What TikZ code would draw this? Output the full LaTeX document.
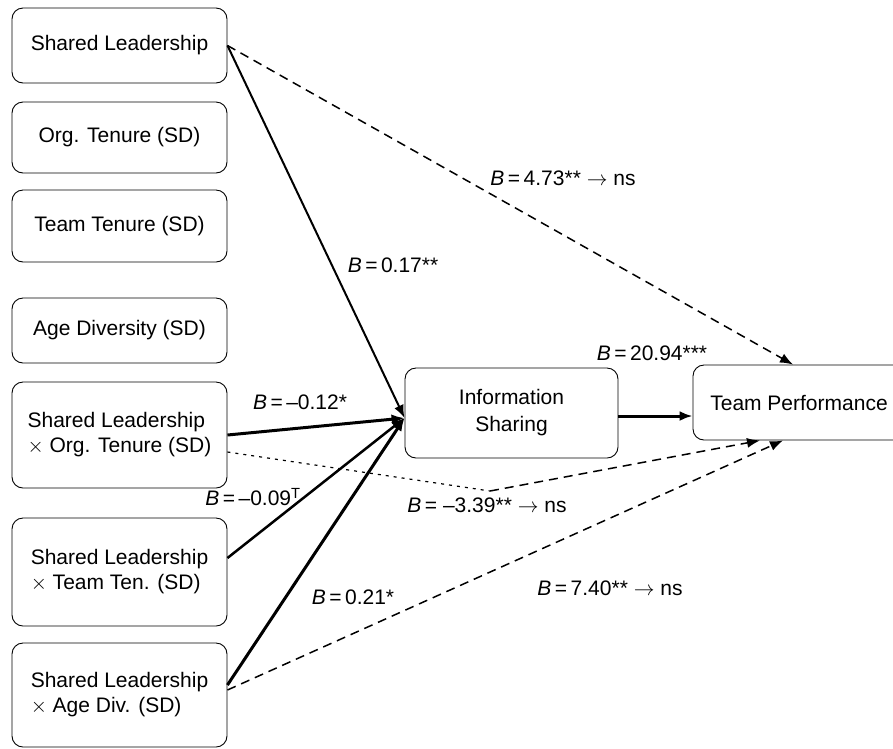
\documentclass[tikz,border=0pt]{standalone}
\usepackage{fontspec}
\setmainfont{Liberation Sans}
\usetikzlibrary{arrows.meta}
\begin{document}
\begin{tikzpicture}[x=1pt,y=-1pt,
  box/.style={draw, line width=0.9pt, rounded corners=11pt, align=center, font=\fontsize{21}{25}\selectfont, inner sep=0pt},
  lbox/.style={box, align=left},
  lab/.style={font=\fontsize{21}{25}\selectfont, inner sep=0pt},
  tip/.style={-{Latex[length=13pt,width=10pt]}},
  solidA/.style={tip, line width=2pt},
  solidB/.style={tip, line width=3pt},
  dashA/.style={tip, line width=1.5pt, dash pattern=on 9pt off 6pt},
  dotA/.style={line width=1.2pt, dash pattern=on 3pt off 5pt}]
\useasboundingbox (0,0) rectangle (893,748);
\node[box, minimum width=215pt, minimum height=75pt] (sl) at (119.5,45.5) {Shared Leadership};
\node[box, minimum width=215pt, minimum height=71pt] (ot) at (119.5,137.5) {Org. Tenure (SD)};
\node[box, minimum width=215pt, minimum height=72pt] (tt) at (119.5,226) {Team Tenure (SD)};
\node[box, minimum width=215pt, minimum height=65pt] (ad) at (119.5,330.5) {Age Diversity (SD)};
\node[lbox, minimum width=215pt, minimum height=106pt] (so) at (119.5,435) {Shared Leadership\\$\times$ Org. Tenure (SD)};
\node[lbox, minimum width=215pt, minimum height=108pt] (st) at (119.5,572) {Shared Leadership\\$\times$ Team Ten. (SD)};
\node[lbox, minimum width=215pt, minimum height=104pt] (sa) at (119.5,695) {Shared Leadership\\$\times$ Age Div. (SD)};
\node[box, minimum width=213pt, minimum height=90pt, font=\fontsize{21}{27}\selectfont] (info) at (511.5,413) {Information\\Sharing};
\node[box, minimum width=212pt, minimum height=75pt] (tp) at (799,402.5) {Team Performance};
\coordinate (conv) at ([yshift=-5pt]info.west);
\coordinate (kink) at (490,491);
% to information sharing
\draw[solidA] (sl.east) -- (conv);
\draw[solidB] (so.east) -- (conv);
\draw[tip, line width=2.5pt] ([yshift=14pt]st.east) -- (conv);
\draw[solidB] ([yshift=10pt]sa.east) -- (conv);
% to team performance
\draw[solidB] ([yshift=-3pt]info.east) -- ([yshift=-13.5pt]tp.west);
\draw[dashA] (sl.east) -- ([xshift=-6pt]tp.north);
\draw[dotA] ([yshift=-17pt]so.east) -- (kink);
\draw[dashA] (kink) -- ([xshift=-39pt]tp.south);
\draw[dashA] ([yshift=5pt]sa.east) -- ([xshift=-16pt]tp.south);
% labels
\node[lab] (l1) at (563,178) {\textit{B}\,=\,4.73** $\rightarrow$ ns};
\node[lab] (l2) at (393,265) {\textit{B}\,=\,0.17**};
\node[lab] (l3) at (652,353) {\textit{B}\,=\,20.94***};
\node[lab] (l4) at (300,402) {\textit{B}\,=\,–0.12*};
\node[lab] (l5) at (253,497) {\textit{B}\,=\,–0.09\textsuperscript{T}};
\node[lab] (l6) at (353,597) {\textit{B}\,=\,0.21*};
\node[lab] (l7) at (487,505) {\textit{B}\,= –3.39** $\rightarrow$ ns};
\node[lab] (l8) at (610,588) {\textit{B}\,=\,7.40** $\rightarrow$ ns};
\end{tikzpicture}
\end{document}
